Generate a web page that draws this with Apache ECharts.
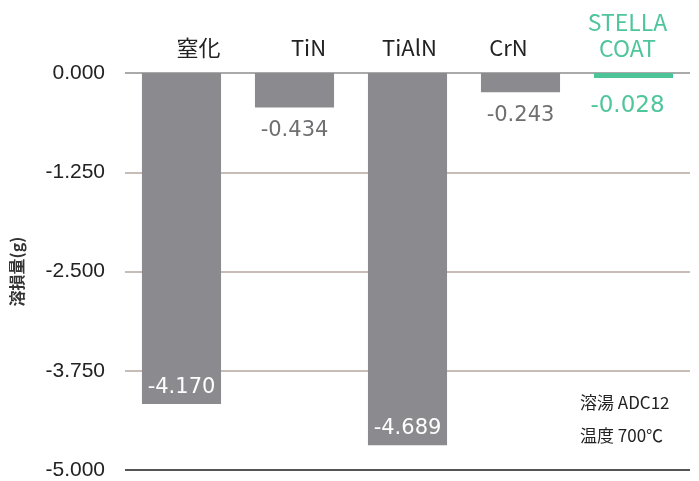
<!DOCTYPE html>
<html><head><meta charset="utf-8">
<script src="https://cdn.jsdelivr.net/npm/echarts@6/dist/echarts.min.js"></script>
<style>html,body{margin:0;padding:0;background:#fff}#c{width:699px;height:481px}</style>
</head><body><div id="c"></div>
<script>
const categories = ['窒化', 'TiN', 'TiAlN', 'CrN', 'STELLA\nCOAT'];
const values = [-4.170, -0.434, -4.689, -0.243, -0.028];
const yTicks = { min: -5, max: 0, interval: 1.25 };
const yName = '溶損量(g)';
const notes = ['溶湯 ADC12', '温度 700℃'];

// horizontal label nudges (px) to match the reference's label placement
const labelShift = [17, 14, 2, -12, -6];

const GRAY = '#8b8a8e', GREEN = '#4dc497';
const insideLabels = [0, 2];
const data = values.map((v, i) => {
  const green = i === 4;
  const inside = insideLabels.includes(i);
  return {
    value: v,
    itemStyle: { color: green ? GREEN : GRAY },
    label: {
      show: true,
      position: inside ? 'insideBottom' : 'bottom',
      distance: inside ? 6 : (green ? 17 : 13),
      offset: green ? [-6, 0] : [0, 0],
      color: inside ? '#fff' : (green ? '#4fc59b' : '#6f6f72'),
      fontSize: green ? 23 : 21,
      fontFamily: 'DejaVu Sans',
      formatter: p => p.value.toFixed(3)
    }
  };
});

const rich = {};
labelShift.forEach((s, i) => {
  const pad = s >= 0 ? [0, 0, 0, 2 * s] : [0, -2 * s, 0, 0];
  rich['c' + i] = {
    fontSize: i === 4 ? 23 : 22, lineHeight: 26,
    color: i === 4 ? '#4fc59b' : '#222',
    fontFamily: 'Noto Sans CJK JP', padding: pad
  };
});

const chart = echarts.init(document.getElementById('c'));
chart.setOption({
  animation: false,
  grid: { left: 125, right: 9, top: 73, bottom: 11, outerBoundsMode: 'none', containLabel: false },
  xAxis: {
    type: 'category', position: 'top', data: categories,
    axisLine: { show: false }, axisTick: { show: false },
    axisLabel: {
      interval: 0, margin: 12, lineHeight: 26,
      formatter: (v, i) => v.split('\n').map(t => '{c' + i + '|' + t + '}').join('\n'),
      rich: rich
    }
  },
  yAxis: {
    type: 'value', min: yTicks.min, max: yTicks.max, interval: yTicks.interval,
    name: yName, nameLocation: 'middle', nameGap: 100, nameRotate: 90,
    nameTextStyle: { fontSize: 16, color: '#333', fontFamily: 'Noto Sans CJK JP', fontWeight: 'bold' },
    axisLine: { show: false }, axisTick: { show: false },
    axisLabel: { margin: 20, fontSize: 21, color: '#222', fontFamily: 'Liberation Sans', formatter: v => v.toFixed(3) },
    splitLine: { lineStyle: { width: 2, color: ['#555555', '#c8bcb7', '#c8bcb7', '#c8bcb7', '#aaaaaa'] } }
  },
  series: [{
    type: 'bar', data: data, barWidth: '70%', barMinHeight: 5
  }],
  graphic: notes.map((t, i) => ({
    type: 'text', left: 580, top: 394 + i * 33,
    style: { text: t, fontSize: 17, fill: '#222', fontFamily: 'Noto Sans CJK JP' }
  }))
});
</script></body></html>
